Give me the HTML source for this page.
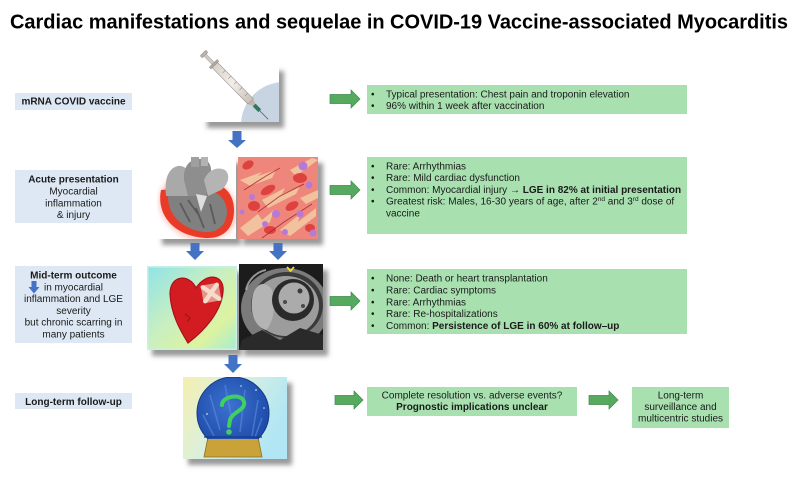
<!DOCTYPE html>
<html><head><meta charset="utf-8">
<style>
html,body{margin:0;padding:0;background:#fff;}
svg{display:block;}
text{font-family:"Liberation Sans",Arial,sans-serif;fill:#1a1a1a;}
.b{font-weight:bold;}
</style></head>
<body>
<svg width="800" height="478" viewBox="0 0 800 478" xmlns="http://www.w3.org/2000/svg">
<defs>
  <filter id="sh" x="-20%" y="-20%" width="150%" height="150%">
    <feDropShadow dx="5" dy="6" stdDeviation="2.5" flood-color="#555" flood-opacity="0.6"/>
  </filter>
  <filter id="bl" x="-30%" y="-30%" width="160%" height="160%"><feGaussianBlur stdDeviation="3"/></filter>
  <clipPath id="c1"><rect x="202" y="65" width="77" height="57"/></clipPath>
  <clipPath id="c2"><rect x="157" y="157" width="79" height="82"/></clipPath>
  <clipPath id="c3"><rect x="238" y="157" width="80" height="82"/></clipPath>
  <clipPath id="c4"><rect x="147" y="266" width="90" height="84"/></clipPath>
  <clipPath id="c5"><rect x="239" y="264" width="84" height="86"/></clipPath>
  <clipPath id="c6"><rect x="183" y="377" width="104" height="82"/></clipPath>
  <clipPath id="c6b"><rect x="183" y="377" width="104" height="62"/></clipPath>
  <linearGradient id="gb" x1="0" y1="0" x2="1" y2="0">
    <stop offset="0" stop-color="#d9d2ca"/><stop offset="0.5" stop-color="#f2eee9"/><stop offset="1" stop-color="#c9c0b6"/>
  </linearGradient>
  <linearGradient id="gh" x1="0" y1="0" x2="1" y2="1">
    <stop offset="0" stop-color="#8fe3e8"/><stop offset="0.45" stop-color="#c9efc0"/><stop offset="0.75" stop-color="#dcf3a0"/><stop offset="1" stop-color="#a5ecd2"/>
  </linearGradient>
  <linearGradient id="gg" x1="0" y1="0" x2="1" y2="0.4">
    <stop offset="0" stop-color="#f6efb0"/><stop offset="0.5" stop-color="#d8f0e0"/><stop offset="1" stop-color="#b2e6f4"/>
  </linearGradient>
  <radialGradient id="gglobe" cx="0.45" cy="0.4" r="0.6">
    <stop offset="0" stop-color="#3d72d0"/><stop offset="1" stop-color="#1d4aa8"/>
  </radialGradient>
</defs>

<!-- Title -->
<text x="10" y="28.5" class="b" font-size="20" textLength="778" lengthAdjust="spacing" style="fill:#000">Cardiac manifestations and sequelae in COVID-19 Vaccine-associated Myocarditis</text>

<!-- Left label boxes -->
<rect x="15" y="93" width="117" height="17" fill="#dde8f4"/>
<text x="73.5" y="104.5" class="b" font-size="10" text-anchor="middle">mRNA COVID vaccine</text>

<rect x="15" y="170" width="117" height="53" fill="#dde8f4"/>
<text x="73.5" y="182.5" class="b" font-size="10" text-anchor="middle">Acute presentation</text>
<text x="73.5" y="194.5" font-size="10" text-anchor="middle">Myocardial</text>
<text x="73.5" y="206.3" font-size="10" text-anchor="middle">inflammation</text>
<text x="73.5" y="218" font-size="10" text-anchor="middle">&amp; injury</text>

<rect x="15" y="266" width="117" height="77" fill="#dde8f4"/>
<text x="73.5" y="278.5" class="b" font-size="10" text-anchor="middle">Mid-term outcome</text>
<path d="M31.5,281 H36.5 V287 H39.5 L34,293.5 L28.5,287 H31.5 Z" fill="#4472c4"/>
<text x="44" y="290.3" font-size="10">in myocardial</text>
<text x="73.5" y="302.1" font-size="10" text-anchor="middle">inflammation and LGE</text>
<text x="73.5" y="313.9" font-size="10" text-anchor="middle">severity</text>
<text x="73.5" y="325.7" font-size="10" text-anchor="middle">but chronic scarring in</text>
<text x="73.5" y="337.5" font-size="10" text-anchor="middle">many patients</text>

<rect x="15" y="393" width="117" height="16" fill="#dde8f4"/>
<text x="73.5" y="405" class="b" font-size="10" text-anchor="middle">Long-term follow-up</text>

<!-- Image 1: syringe -->
<rect x="202" y="65" width="77" height="57" fill="#fff" filter="url(#sh)"/>
<g clip-path="url(#c1)">
  <circle cx="284" cy="125" r="43" fill="#c9d4e3"/>
</g>
<g transform="translate(203,53) rotate(45.5)">
  <rect x="0" y="-4" width="3" height="8" rx="1" fill="#b9b4b0" stroke="#8a8580" stroke-width="0.5"/>
  <rect x="3" y="-1.6" width="12" height="3.2" fill="#cfcac5" stroke="#8a8580" stroke-width="0.4"/>
  <rect x="14.5" y="-5.5" width="2.5" height="11" fill="#b0aaa5" stroke="#7a7570" stroke-width="0.4"/>
  <rect x="17" y="-3.8" width="51" height="7.6" fill="url(#gb)" stroke="#8a8580" stroke-width="0.5"/>
  <g stroke="#8a7f75" stroke-width="0.5">
    <line x1="28" y1="-3.8" x2="28" y2="0"/><line x1="36" y1="-3.8" x2="36" y2="0"/>
    <line x1="44" y1="-3.8" x2="44" y2="0"/><line x1="52" y1="-3.8" x2="52" y2="0"/><line x1="60" y1="-3.8" x2="60" y2="0"/>
  </g>
  <path d="M68,-3.8 L73,-1.5 L73,1.5 L68,3.8 Z" fill="#bdb6ae"/>
  <rect x="73" y="-2" width="8" height="4" fill="#2f7a5e"/>
  <line x1="81" y1="0" x2="93" y2="0" stroke="#6a6a6a" stroke-width="0.9"/>
</g>

<!-- Blue arrow 1 -->
<path d="M232.5,131 H241.5 V140 H246 L237,148 L228,140 H232.5 Z" fill="#4472c4"/>

<!-- Image 2: heart anatomy -->
<rect x="157" y="157" width="79" height="82" fill="#fff" filter="url(#sh)"/>
<g clip-path="url(#c2)">
  <ellipse cx="198" cy="207" rx="40" ry="32" transform="rotate(25 198 207)" fill="#ff8577" opacity="0.5" filter="url(#bl)"/>
  <path d="M161,190 C156,215 174,236 205,238 C224,239 234,228 234,210 C234,194 224,184 212,184 C196,186 180,188 161,190 Z" fill="#e83b28"/>
  <path d="M168,194 C167,214 181,229 204,232 C219,233 227,224 227,211 C226,199 218,191 208,191 C194,192 182,193 168,194 Z" fill="#808080"/>
  <path d="M180,203 L190,222 M196,208 L204,228 M210,204 L215,224 M188,200 L198,214" stroke="#5a5a5a" stroke-width="1.8"/>
  <path d="M166,196 C164,180 168,168 178,166 C186,165 190,172 190,184 L190,196 Z" fill="#a9a9a9"/>
  <path d="M184,180 C183,166 190,158 202,159 C212,160 213,172 209,182 L206,196 L188,196 Z" fill="#8e8e8e"/>
  <path d="M204,180 C208,170 217,166 225,170 C231,175 228,185 221,190 L208,196 Z" fill="#b4b4b4"/>
  <rect x="191" y="157" width="8" height="10" fill="#9f9f9f"/>
  <rect x="201" y="157" width="7" height="9" fill="#b2b2b2"/>
  <path d="M196,194 L201,212 L207,196 Z" fill="#dedede"/>
</g>

<!-- Image 3: cells -->
<rect x="238" y="157" width="80" height="82" fill="#ee8379" filter="url(#sh)"/>
<g clip-path="url(#c3)">
  <rect x="238" y="157" width="80" height="82" fill="#ef867b"/>
  <g fill="#f3c6a0" opacity="0.95">
    <path d="M240,180 L262,172 L258,176 L276,170 L272,178 L250,186 Z"/>
    <path d="M262,200 L285,188 L282,194 L300,186 L296,194 L268,208 Z"/>
    <path d="M240,228 L258,214 L262,220 L274,210 L270,222 L248,236 Z"/>
    <path d="M280,230 L300,214 L298,222 L316,208 L316,216 L290,236 Z"/>
    <path d="M290,170 L312,158 L318,160 L296,176 Z"/>
    <path d="M300,198 L318,190 L318,198 L306,204 Z"/>
  </g>
  <g fill="#d9322f" opacity="0.8">
    <ellipse cx="248" cy="165" rx="6" ry="4" transform="rotate(-30 248 165)"/>
    <ellipse cx="268" cy="190" rx="8" ry="4" transform="rotate(-30 268 190)"/>
    <ellipse cx="300" cy="178" rx="7" ry="5"/>
    <ellipse cx="254" cy="206" rx="6" ry="5"/>
    <ellipse cx="292" cy="206" rx="7" ry="4" transform="rotate(-30 292 206)"/>
    <ellipse cx="270" cy="230" rx="6" ry="4"/>
    <ellipse cx="310" cy="228" rx="5" ry="4"/>
  </g>
  <g stroke="#a82226" stroke-width="1" fill="none" opacity="0.8">
    <path d="M244,190 L266,176 L280,168"/>
    <path d="M258,212 L280,196 L304,184"/>
    <path d="M262,238 L284,222 L312,204"/>
  </g>
  <g fill="#b67ad6">
    <circle cx="303" cy="166" r="4.5"/>
    <circle cx="309" cy="185" r="3.5"/>
    <circle cx="252" cy="197" r="3"/>
    <circle cx="276" cy="214" r="4"/>
    <circle cx="300" cy="214" r="3.5"/>
    <circle cx="265" cy="224" r="3"/>
    <circle cx="313" cy="233" r="3.5"/>
    <circle cx="285" cy="232" r="3"/>
    <circle cx="242" cy="212" r="2.5"/>
  </g>
</g>

<!-- Blue arrows 2,3 -->
<path d="M190.5,243 H199.5 V251 H204 L195,260 L186,251 H190.5 Z" fill="#4472c4"/>
<path d="M273.5,243 H282.5 V251 H287 L278,260 L269,251 H273.5 Z" fill="#4472c4"/>

<!-- Image 4: bandaged heart -->
<rect x="147" y="266" width="90" height="84" fill="url(#gh)" filter="url(#sh)"/>
<g clip-path="url(#c4)">
  <rect x="147" y="266" width="90" height="84" fill="none" stroke="#c8f0e8" stroke-width="3"/>
  <path d="M196,288 C190,274 170,274 170,294 C171,314 180,330 188,343 C205,330 221,312 223,292 C225,274 206,272 196,288 Z" fill="#d31c22" stroke="#a81218" stroke-width="1.2"/>
  <g transform="rotate(-10 211 293)">
    <rect x="202" y="284" width="18" height="18" fill="#e9a99a" opacity="0.85"/>
    <path d="M204,286 L218,300 M218,286 L204,300" stroke="#f7dccb" stroke-width="4.5" stroke-linecap="round"/>
  </g>
  <path d="M185,314 L190,318 L187,322" stroke="#9a1015" stroke-width="1" fill="none"/>
</g>

<!-- Image 5: MRI -->
<rect x="239" y="264" width="84" height="86" fill="#1c1c1c" filter="url(#sh)"/>
<g clip-path="url(#c5)">
  <rect x="239" y="264" width="84" height="86" fill="#1c1c1c"/>
  <ellipse cx="285" cy="308" rx="44" ry="40" fill="#7b7b7b"/>
  <ellipse cx="287" cy="305" rx="36" ry="33" fill="#3a3a3a"/>
  <ellipse cx="286" cy="306" rx="33" ry="30" fill="#9c9c9c"/>
  <path d="M252,300 C254,282 266,280 272,290 C276,304 274,322 266,330 C258,328 250,318 252,300 Z" fill="#b4b4b4"/>
  <circle cx="293" cy="300" r="21" fill="#2a2a2a"/>
  <circle cx="294" cy="298" r="15.5" fill="#ababab"/>
  <circle cx="300" cy="291" r="2.5" fill="#3a3a3a"/>
  <circle cx="285" cy="302" r="2" fill="#4a4a4a"/>
  <circle cx="303" cy="306" r="2" fill="#4a4a4a"/>
  <path d="M242,340 L262,330 L280,340 L300,328 L323,335 L323,350 L239,350 Z" fill="#2a2a2a"/>
  <path d="M246,290 C248,280 256,272 266,270" stroke="#c8c8c8" stroke-width="2" fill="none" opacity="0.7"/>
  <path d="M287,267 L290.5,271 L294,267" stroke="#f2e020" stroke-width="1.8" fill="none"/>
</g>

<!-- Blue arrow 4 -->
<path d="M228.5,355 H237.5 V364 H242 L233,373 L224,364 H228.5 Z" fill="#4472c4"/>

<!-- Image 6: globe -->
<rect x="183" y="377" width="104" height="82" fill="url(#gg)" filter="url(#sh)"/>
<g clip-path="url(#c6)">
  <path d="M208,437 L258,437 L262,457 L204,457 Z" fill="#c9a23a" stroke="#8a6d1c" stroke-width="0.8"/>
  <g clip-path="url(#c6b)">
    <circle cx="233" cy="413" r="36" fill="url(#gglobe)" stroke="#163a86" stroke-width="1"/>
    <g stroke="#5c8de0" stroke-width="1.5" opacity="0.6" fill="none">
      <path d="M210,395 L220,430"/><path d="M225,385 L232,420"/><path d="M245,390 L240,432"/>
      <path d="M258,400 L252,436"/><path d="M203,415 L214,436"/><path d="M262,418 L255,437"/>
    </g>
    <line x1="204" y1="437" x2="262" y2="437" stroke="#163a86" stroke-width="1.2"/>
  </g>
  <path d="M222,405 C222,396 242,393 244,402 C246,410 232,412 230,420 L229,426" stroke="#3fd060" stroke-width="4" fill="none" stroke-linecap="round"/>
  <circle cx="229" cy="432" r="2.8" fill="#3fd060"/>
  <g fill="#ffffff" opacity="0.8">
    <circle cx="207" cy="414" r="0.9"/><circle cx="256" cy="390" r="0.9"/><circle cx="241" cy="386" r="0.8"/><circle cx="264" cy="408" r="0.8"/>
  </g>
</g>

<!-- Green arrows -->
<g fill="#55aa5f" stroke="#3f8a4b" stroke-width="0.7">
  <path d="M330,94.5 H351 V90 L360,99 L351,108 V103.5 H330 Z"/>
  <path d="M330,185.5 H351 V181 L360,190 L351,199 V194.5 H330 Z"/>
  <path d="M330,296.5 H351 V292 L360,301 L351,310 V305.5 H330 Z"/>
  <path d="M335,395.5 H354 V391 L363,400 L354,409 V404.5 H335 Z"/>
  <path d="M589,395.5 H609 V391 L618,400 L609,409 V404.5 H589 Z"/>
</g>

<!-- Green boxes -->
<rect x="367" y="85" width="320" height="29" fill="#a8e0b0"/>
<text x="371" y="97.3" font-size="10">•</text>
<text x="386" y="97.3" font-size="10">Typical presentation: Chest pain and troponin elevation</text>
<text x="371" y="109" font-size="10">•</text>
<text x="386" y="109" font-size="10">96% within 1 week after vaccination</text>

<rect x="367" y="157" width="320" height="77" fill="#a8e0b0"/>
<text x="371" y="169.3" font-size="10">•</text>
<text x="386" y="169.3" font-size="10">Rare: Arrhythmias</text>
<text x="371" y="181" font-size="10">•</text>
<text x="386" y="181" font-size="10">Rare: Mild cardiac dysfunction</text>
<text x="371" y="192.8" font-size="10">•</text>
<text x="386" y="192.8" font-size="10">Common: Myocardial injury <tspan class="b">→ LGE in 82% at initial presentation</tspan></text>
<text x="371" y="204.5" font-size="10">•</text>
<text x="386" y="204.5" font-size="10">Greatest risk: Males, 16-30 years of age, after 2<tspan font-size="6.5" dy="-3.5">nd</tspan><tspan dy="3.5"> and 3</tspan><tspan font-size="6.5" dy="-3.5">rd</tspan><tspan dy="3.5"> dose of</tspan></text>
<text x="386" y="216.5" font-size="10">vaccine</text>

<rect x="367" y="269" width="320" height="65" fill="#a8e0b0"/>
<text x="371" y="281.7" font-size="10">•</text>
<text x="386" y="281.7" font-size="10">None: Death or heart transplantation</text>
<text x="371" y="293.5" font-size="10">•</text>
<text x="386" y="293.5" font-size="10">Rare: Cardiac symptoms</text>
<text x="371" y="305.3" font-size="10">•</text>
<text x="386" y="305.3" font-size="10">Rare: Arrhythmias</text>
<text x="371" y="317.1" font-size="10">•</text>
<text x="386" y="317.1" font-size="10">Rare: Re-hospitalizations</text>
<text x="371" y="328.9" font-size="10">•</text>
<text x="386" y="328.9" font-size="10">Common: <tspan class="b">Persistence of LGE in 60% at follow–up</tspan></text>

<rect x="367" y="387" width="210" height="29" fill="#a8e0b0"/>
<text x="472" y="398.3" font-size="10" text-anchor="middle">Complete resolution vs. adverse events?</text>
<text x="472" y="410" font-size="10" text-anchor="middle" class="b">Prognostic implications unclear</text>

<rect x="632" y="387" width="97" height="41" fill="#a8e0b0"/>
<text x="680.5" y="398.3" font-size="10" text-anchor="middle">Long-term</text>
<text x="680.5" y="410" font-size="10" text-anchor="middle">surveillance and</text>
<text x="680.5" y="421.7" font-size="10" text-anchor="middle">multicentric studies</text>
</svg>
</body></html>
